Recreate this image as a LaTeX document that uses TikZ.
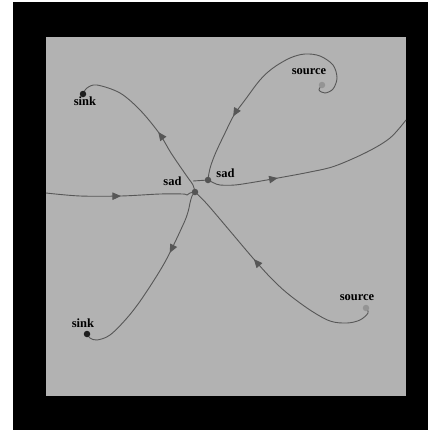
\documentclass[tikz,border=0pt]{standalone}
\usepackage{fontspec}
\setmainfont{Liberation Serif}
\usetikzlibrary{arrows.meta,decorations.markings}
\definecolor{panel}{gray}{0.70}
\definecolor{curve}{gray}{0.34}
\definecolor{sinkc}{gray}{0.12}
\definecolor{sadc}{gray}{0.33}
\definecolor{sourcec}{gray}{0.58}
\pgfdeclarelayer{back}
\pgfdeclarelayer{lines}
\pgfsetlayers{back,lines,main}
\tikzset{
  fixpt/.style={circle,inner sep=0pt,minimum size=6.5pt},
  sinkpt/.style={fixpt,fill=sinkc},
  sadpt/.style={fixpt,fill=sadc},
  sourcept/.style={fixpt,fill=sourcec},
  lbl/.style={font=\fontsize{12.5}{12.5}\selectfont\bfseries,anchor=base,inner sep=0pt},
  orbit/.style={draw=curve,line width=0.9pt},
  flow/.style={orbit,postaction={decorate},
    decoration={markings,mark=at position #1 with {\arrow{Triangle[length=8.5pt,width=7.5pt]}}}}
}

\begin{document}
\begin{tikzpicture}[x=1pt,y=-1pt]
\useasboundingbox (0,0) rectangle (428,432);
\begin{pgfonlayer}{back}
\fill[white] (0,0) rectangle (428,432);
\fill[black] (13,2) rectangle (428,430);
\fill[panel] (46,37) rectangle (406,396);
\end{pgfonlayer}

\node[sinkpt] (sinkA) at (83,94) {};
\node[sinkpt] (sinkB) at (87,334) {};
\node[sadpt] (sadA) at (195,192) {};
\node[sadpt] (sadB) at (208,180) {};
\node[sourcept] (sourceA) at (322,85) {};
\node[sourcept] (sourceB) at (366,308) {};
\coordinate (west) at (46,193);
\coordinate (east) at (406,120);
\coordinate (join) at (193,181);

\node[lbl] (sinkAlbl) at (85,105) {sink};
\node[lbl] (sinkBlbl) at (83,327) {sink};
\node[lbl] (sadAlbl) at (172.5,185) {sad};
\node[lbl] (sadBlbl) at (225.5,177) {sad};
\node[lbl] (sourceAlbl) at (309,74) {source};
\node[lbl] (sourceBlbl) at (357,300) {source};

\begin{pgfonlayer}{lines}
\draw[flow=0.62] plot[smooth,tension=0.55] coordinates {(sourceB.center) (368,313) (360,320) (347,323) (330,321) (310,310) (287,293) (270,277) (252,257) (230,231) (207,204) (sadA.center)};
\draw[flow=0.42] plot[smooth,tension=0.55] coordinates {(sadA.center) (193,185) (186,175) (171,153) (159,133) (140,110) (120,93) (97,85) (87,88) (sinkA.center)};
\draw[flow=0.5] plot[smooth,tension=0.55] coordinates {(west) (80,196) (121,196) (160,194) (183,194) (187,195) (190,193) (sadA.center)};
\draw[flow=0.34] plot[smooth,tension=0.55] coordinates {(sadA.center) (192,196) (190,203) (188,212) (183,225) (165,262) (143,297) (127,318) (110,335) (97,340) (90,338) (sinkB.center)};
\draw[flow=0.72] plot[smooth,tension=0.55] coordinates {(sourceA.center) (319,90) (325,93) (333,89) (337,78) (333,65) (320,56) (305,54) (290,58) (273,68) (260,80) (245,100) (234,115) (225,133) (216,152) (211,165) (209,173) (sadB.center)};
\draw[flow=0.33] plot[smooth,tension=0.55] coordinates {(sadB.center) (214,183) (220,185) (235,185) (255,182) (278,178) (310,172) (335,166) (367,152) (390,138) (east)};
\draw[orbit] (sadB.center) -- (join);
\end{pgfonlayer}
\end{tikzpicture}
\end{document}
